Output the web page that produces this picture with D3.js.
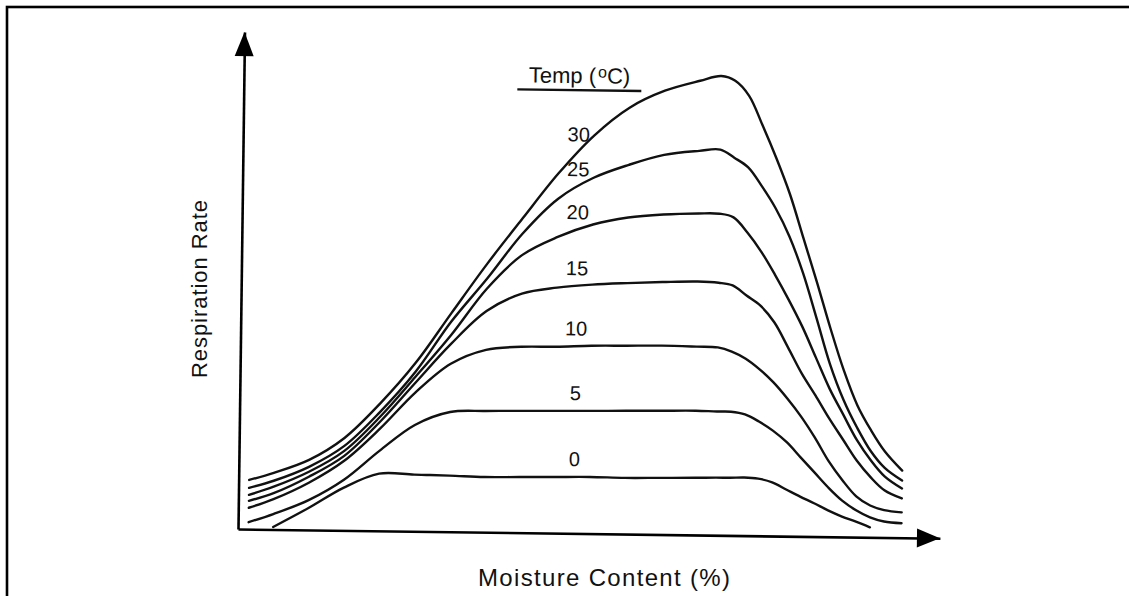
<!DOCTYPE html>
<html>
<head>
<meta charset="utf-8">
<script src="https://cdn.jsdelivr.net/npm/d3@7"></script>
<style>
html, body { margin: 0; padding: 0; background: #fff; }
svg { display: block; }
text { font-family: "Liberation Sans", Arial, Helvetica, sans-serif; fill: #111; }
</style>
</head>
<body>
<svg id="chart"></svg>
<script>
var width = 1129, height = 596;

var moisture = [1.5, 5, 10, 15, 20, 25, 30, 35, 40, 45, 50, 55, 60, 65, 68, 70, 72, 74, 76, 78, 80, 82, 84, 86, 88, 90, 92, 94.5];

var temps = ["30", "25", "20", "15", "10", "5", "0"];

// relative respiration rate per temperature (oC)
var rate30 = [9.9, 11.4, 14.1, 18.6, 25.6, 33.9, 44.0, 54.0, 63.3, 72.4, 80.1, 85.8, 89.3, 91.4, 92.4, 91.5, 88.5, 82.5, 76.0, 68.8, 60.0, 51.2, 42.0, 33.5, 26.5, 21.5, 17.3, 13.5];
var rate25 = [8.3, 9.8, 12.7, 17.0, 23.9, 32.1, 42.3, 51.0, 60.2, 67.3, 71.6, 74.3, 76.4, 77.3, 77.6, 76.0, 74.1, 70.3, 65.9, 60.3, 53.0, 44.0, 34.8, 27.6, 22.0, 17.3, 14.0, 11.5];
var rate20 = [6.9, 8.6, 11.7, 16.0, 22.9, 31.1, 39.6, 49.0, 55.9, 59.6, 62.2, 63.7, 64.4, 64.7, 64.7, 64.0, 61.0, 57.2, 52.6, 47.6, 42.2, 36.0, 29.8, 24.6, 19.5, 15.5, 12.3, 9.9];
var rate15 = [5.7, 7.3, 10.7, 15.0, 21.9, 29.9, 37.8, 44.5, 48.1, 49.4, 50.1, 50.5, 50.8, 51.0, 50.8, 50.3, 48.3, 46.3, 43.0, 38.0, 32.8, 28.4, 23.8, 19.6, 15.4, 12.1, 9.5, 7.9];
var rate10 = [4.3, 6.1, 9.5, 14.0, 20.5, 27.9, 33.8, 36.7, 37.4, 37.5, 37.8, 37.9, 38.0, 37.9, 37.8, 37.0, 35.6, 33.5, 30.9, 27.7, 24.1, 19.9, 15.2, 11.4, 8.2, 6.4, 5.5, 5.1];
var rate5  = [1.4, 3.1, 6.0, 10.2, 16.1, 21.4, 24.1, 24.4, 24.5, 24.6, 24.7, 24.8, 24.9, 25.0, 24.9, 24.9, 24.4, 23.0, 21.2, 18.9, 15.9, 12.9, 9.9, 7.3, 5.4, 4.0, 3.2, 2.9];
var rate0  = [null, 0.5, 4.4, 8.6, 11.5, 11.4, 11.3, 11.1, 11.2, 11.3, 11.4, 11.3, 11.4, 11.5, 11.6, 11.6, 11.7, 11.5, 10.8, 9.4, 8.0, 6.7, 5.3, 4.1, 3.1, 2.0, null, null];

var rates = [rate30, rate25, rate20, rate15, rate10, rate5, rate0];

var svg = d3.select("#chart").attr("width", width).attr("height", height);

// frame of the scanned figure (only top and left edges show)
svg.append("rect")
    .attr("x", 7).attr("y", 7)
    .attr("width", width + 20).attr("height", height + 20)
    .attr("fill", "none").attr("stroke", "#000").attr("stroke-width", 2.6);

var origin = {x: 238, y: 529};
var tilt = 0.75;           // the scan is a little rotated
var plotW = 702, plotH = 497;

var xScale = d3.scaleLinear().domain([0, 100]).range([0, plotW]);
var yScale = d3.scaleLinear().domain([0, 100]).range([0, -plotH]);

var plot = svg.append("g")
    .attr("transform", "translate(" + [origin.x, origin.y] + ") rotate(" + tilt + ")");

// axes without ticks
var xAxis = d3.axisBottom(xScale).tickValues([]).tickSizeOuter(0);
var yAxis = d3.axisLeft(yScale).tickValues([]).tickSizeOuter(0);

plot.append("g").attr("class", "axis x").call(xAxis);
plot.append("g").attr("class", "axis y").call(yAxis);
plot.selectAll(".axis path").attr("stroke", "#000").attr("stroke-width", 2.6);

var tri = d3.line();
plot.append("path")
    .attr("d", tri([[xScale(100), 0], [xScale(100) - 23, -9.5], [xScale(100) - 23, 9.5]]) + "Z")
    .attr("fill", "#000");
plot.append("path")
    .attr("d", tri([[0, yScale(100)], [-9.5, yScale(100) + 24], [9.5, yScale(100) + 24]]) + "Z")
    .attr("fill", "#000");

// curves
var lineGen = d3.line()
    .defined(function(d) { return d[1] != null; })
    .x(function(d) { return xScale(d[0]); })
    .y(function(d) { return yScale(d[1]); })
    .curve(d3.curveCatmullRom.alpha(0.5));

rates.forEach(function(r, i) {
    var pts = moisture.map(function(m, j) { return [m, r[j]]; });
    plot.append("path")
        .attr("class", "line t" + temps[i])
        .attr("d", lineGen(pts))
        .attr("fill", "none")
        .attr("stroke", "#111")
        .attr("stroke-width", 2.4)
        .attr("stroke-linejoin", "round")
        .attr("stroke-linecap", "round");
});

// temperature labels sit just above each curve in one column
var labelAt = 47.8;
function valueAt(r, m) {
    for (var j = 1; j < moisture.length; j++) {
        if (moisture[j] >= m && r[j] != null && r[j - 1] != null) {
            var t = (m - moisture[j - 1]) / (moisture[j] - moisture[j - 1]);
            return r[j - 1] + t * (r[j] - r[j - 1]);
        }
    }
    return 0;
}

plot.selectAll(".tlabel")
    .data(temps)
    .enter().append("text")
    .attr("class", "tlabel")
    .attr("x", xScale(labelAt))
    .attr("y", function(d, i) { return yScale(valueAt(rates[i], labelAt)) - 18; })
    .attr("dy", "0.36em")
    .attr("text-anchor", "middle")
    .attr("font-size", 20)
    .text(function(d) { return d; });

// legend header
var head = plot.append("text")
    .attr("x", xScale(labelAt))
    .attr("y", yScale(90.6))
    .attr("text-anchor", "middle")
    .attr("font-size", 22);
head.append("tspan").text("Temp (");
head.append("tspan").attr("font-size", 16).attr("dy", -6).attr("dx", 2).text("o");
head.append("tspan").attr("dy", 6).text("C)");

plot.append("line")
    .attr("x1", xScale(labelAt) - 62).attr("x2", xScale(labelAt) + 62)
    .attr("y1", yScale(90.6) + 7).attr("y2", yScale(90.6) + 7)
    .attr("stroke", "#111").attr("stroke-width", 2.4);

// axis titles
svg.append("text")
    .attr("transform", "translate(207,289) rotate(-90)")
    .attr("text-anchor", "middle")
    .attr("font-size", 22)
    .attr("textLength", 178)
    .attr("lengthAdjust", "spacing")
    .text("Respiration Rate");

svg.append("text")
    .attr("x", 604).attr("y", 586)
    .attr("text-anchor", "middle")
    .attr("font-size", 24)
    .attr("textLength", 252)
    .attr("lengthAdjust", "spacing")
    .text("Moisture Content (%)");
</script>
</body>
</html>
